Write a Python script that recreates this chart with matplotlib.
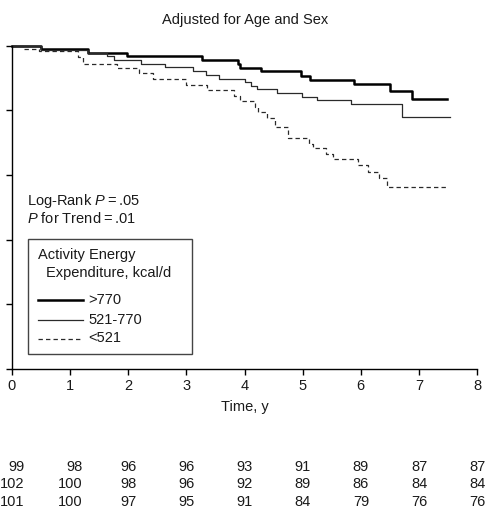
import matplotlib
matplotlib.use("Agg")
import matplotlib.pyplot as plt
from matplotlib.lines import Line2D
from matplotlib.patches import Rectangle
import matplotlib.transforms as mtransforms

plt.rcParams['font.family'] = ['Liberation Sans', 'DejaVu Sans']
plt.rcParams['mathtext.fontset'] = 'custom'
plt.rcParams['mathtext.rm'] = 'Liberation Sans'
plt.rcParams['mathtext.it'] = 'Liberation Sans:italic'
TXT = '#1a1a1a'
plt.rcParams['text.color'] = TXT

# ---- data ----
title = "Adjusted for Age and Sex"
group_labels = [">770", "521-770", "<521"]

t_high = [0, 0.50, 1.31, 1.98, 3.27, 3.88, 3.93, 4.29, 4.97, 5.12, 5.88, 6.50, 6.88, 7.48]
s_high = [1.0, 0.994, 0.988, 0.983, 0.977, 0.971, 0.965, 0.960, 0.953, 0.947, 0.940, 0.930, 0.917, 0.917]

t_mid = [0, 0.50, 1.31, 1.63, 1.76, 2.22, 2.63, 3.12, 3.33, 3.56, 4.00, 4.11, 4.22, 4.56, 4.99, 5.24, 5.83, 6.71, 7.53]
s_mid = [1.0, 0.993, 0.988, 0.983, 0.978, 0.971, 0.966, 0.961, 0.954, 0.948, 0.943, 0.938, 0.933, 0.927, 0.921, 0.916, 0.909, 0.890, 0.890]

t_low = [0, 0.19, 0.47, 1.14, 1.23, 1.81, 2.18, 2.43, 2.99, 3.36, 3.82, 3.92, 4.18, 4.23, 4.39,
         4.53, 4.74, 5.11, 5.17, 5.40, 5.52, 5.96, 6.12, 6.32, 6.46, 7.47]
s_low = [1.0, 0.994, 0.991, 0.982, 0.972, 0.965, 0.957, 0.948, 0.939, 0.931, 0.922, 0.914, 0.905, 0.897, 0.888,
         0.874, 0.857, 0.848, 0.841, 0.833, 0.824, 0.815, 0.805, 0.795, 0.781, 0.781]

risk_times = [0, 1, 2, 3, 4, 5, 6, 7, 8]
risk_high = [99, 98, 96, 96, 93, 91, 89, 87, 87]
risk_mid = [102, 100, 98, 96, 92, 89, 86, 84, 84]
risk_low = [101, 100, 97, 95, 91, 84, 79, 76, 76]

x_ticks = [0, 1, 2, 3, 4, 5, 6, 7, 8]
y_ticks = [0.5, 0.6, 0.7, 0.8, 0.9, 1.0]

# ---- figure ----
W, H = 490, 526
fig = plt.figure(figsize=(W / 100, H / 100), dpi=100)

def fx(px):
    return px / W

def fy(py):
    return 1 - py / H

left, right, top, bottom = 12, 477, 45.5, 369
ax = fig.add_axes([fx(left), fy(bottom), fx(right) - fx(left), fy(top) - fy(bottom)])

ax.step(t_high, s_high, where='post', color='black', lw=1.8, clip_on=False)
ax.step(t_mid, s_mid, where='post', color='#2a2a2a', lw=0.9, clip_on=False)
ax.step(t_low, s_low, where='post', color='#2a2a2a', lw=0.9, ls=(0, (3.5, 2.5)), clip_on=False)

ax.set_xlim(0, 8)
ax.set_ylim(0.5, 1.0)
ax.set_xticks(x_ticks)
ax.set_xticklabels([str(v) for v in x_ticks], fontsize=10.5, color=TXT)
ax.set_yticks(y_ticks)
ax.set_yticklabels([])
ax.tick_params(axis='both', direction='out', length=4, width=1, color='black', pad=3.5)
for s in ['top', 'right']:
    ax.spines[s].set_visible(False)
for s in ['left', 'bottom']:
    ax.spines[s].set_linewidth(1)
    ax.spines[s].set_color('black')

ax.set_xlabel("Time, y", fontsize=10.5, color=TXT)
ax.xaxis.set_label_coords(0.5, (bottom - 400) / (bottom - top))

fig.text(fx(245), fy(20), title, ha='center', va='center', fontsize=10.5)

# statistics text
fig.text(fx(27), fy(201), "Log-Rank $P$\u2009=\u2009.05", ha='left', va='center', fontsize=10.5)
fig.text(fx(27), fy(218.5), "$P$ for Trend\u2009=\u2009.01", ha='left', va='center', fontsize=10.5)

# legend box
box = Rectangle((fx(27.5), fy(354)), fx(191.5) - fx(27.5), fy(239) - fy(354),
                transform=fig.transFigure, fill=False, edgecolor='#444444', lw=1.0)
fig.add_artist(box)
fig.text(fx(38), fy(255), "Activity Energy", ha='left', va='center', fontsize=10.5)
fig.text(fx(45.5), fy(273.5), "Expenditure, kcal/d", ha='left', va='center', fontsize=10.5)
leg_styles = [dict(color='black', lw=1.8), dict(color='#2a2a2a', lw=0.9),
              dict(color='#2a2a2a', lw=0.9, ls=(0, (3.5, 2.5)))]
leg_y = [299.5, 319.5, 338.5]
for lab, st, yy in zip(group_labels, leg_styles, leg_y):
    fig.add_artist(Line2D([fx(38), fx(82.5)], [fy(yy), fy(yy)], transform=fig.transFigure, **st))
    fig.text(fx(88), fy(yy), lab, ha='left', va='center', fontsize=10.5)

# numbers at risk
trans = mtransforms.blended_transform_factory(ax.transData, fig.transFigure)
rows = [risk_high, risk_mid, risk_low]
row_y = [467.3, 484, 502.5]
for j, t in enumerate(risk_times):
    maxlen = max(len(str(r[j])) for r in rows)
    off = mtransforms.ScaledTranslation(maxlen * 4.15 / 100, 0, fig.dpi_scale_trans)
    for r, yy in zip(rows, row_y):
        fig.text(t, fy(yy), str(r[j]), ha='right', va='center', fontsize=10.5,
                 transform=trans + off)

fig.savefig("out.png", dpi=100)
